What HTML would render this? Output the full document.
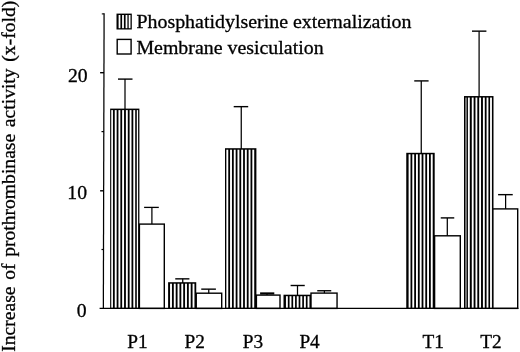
<!DOCTYPE html>
<html><head><meta charset="utf-8"><title>Figure</title>
<style>
html,body{margin:0;padding:0;background:#fff;}
body{width:520px;height:352px;overflow:hidden;}
svg{display:block;}
text{font-family:"Liberation Serif",serif;font-size:19.7px;fill:#000;stroke:#000;stroke-width:0.3px;}
</style></head><body>
<svg width="520" height="352" viewBox="0 0 520 352">
<rect width="520" height="352" fill="#fff"/>

<rect x="110.15" y="108.60" width="29.25" height="199.80" fill="#000"/>
<rect x="111.25" y="110.10" width="1.7" height="197.70" fill="#fff"/>
<rect x="114.75" y="110.10" width="1.9" height="197.70" fill="#fff"/>
<rect x="118.45" y="110.10" width="1.9" height="197.70" fill="#fff"/>
<rect x="122.15" y="110.10" width="1.9" height="197.70" fill="#fff"/>
<rect x="125.90" y="110.10" width="1.9" height="197.70" fill="#fff"/>
<rect x="129.60" y="110.10" width="1.9" height="197.70" fill="#fff"/>
<rect x="133.30" y="110.10" width="1.9" height="197.70" fill="#fff"/>
<rect x="136.80" y="110.10" width="1.3" height="197.70" fill="#fff"/>
<line x1="125.0" y1="79.1" x2="125.0" y2="109.3" stroke="#000" stroke-width="1.25"/>
<line x1="118" y1="79.1" x2="132.5" y2="79.1" stroke="#000" stroke-width="1.4"/>
<rect x="168.1" y="282.20" width="28.15" height="26.20" fill="#000"/>
<rect x="170.05" y="283.70" width="1.9" height="24.10" fill="#fff"/>
<rect x="173.80" y="283.70" width="1.9" height="24.10" fill="#fff"/>
<rect x="177.55" y="283.70" width="1.9" height="24.10" fill="#fff"/>
<rect x="181.30" y="283.70" width="1.9" height="24.10" fill="#fff"/>
<rect x="185.05" y="283.70" width="1.9" height="24.10" fill="#fff"/>
<rect x="188.80" y="283.70" width="1.9" height="24.10" fill="#fff"/>
<rect x="192.55" y="283.70" width="1.9" height="24.10" fill="#fff"/>
<line x1="182.75" y1="278.85" x2="182.75" y2="282.9" stroke="#000" stroke-width="1.25"/>
<line x1="175.25" y1="278.85" x2="189.4" y2="278.85" stroke="#000" stroke-width="1.4"/>
<rect x="225" y="148.20" width="31.40" height="160.20" fill="#000"/>
<rect x="226.35" y="149.70" width="1.9" height="158.10" fill="#fff"/>
<rect x="230.06" y="149.70" width="1.9" height="158.10" fill="#fff"/>
<rect x="233.77" y="149.70" width="1.9" height="158.10" fill="#fff"/>
<rect x="237.48" y="149.70" width="1.9" height="158.10" fill="#fff"/>
<rect x="241.19" y="149.70" width="1.9" height="158.10" fill="#fff"/>
<rect x="244.90" y="149.70" width="1.9" height="158.10" fill="#fff"/>
<rect x="248.61" y="149.70" width="1.9" height="158.10" fill="#fff"/>
<rect x="252.32" y="149.70" width="1.9" height="158.10" fill="#fff"/>
<line x1="241.25" y1="106.65" x2="241.25" y2="148.9" stroke="#000" stroke-width="1.25"/>
<line x1="233.7" y1="106.65" x2="248.2" y2="106.65" stroke="#000" stroke-width="1.4"/>
<rect x="283.5" y="294.70" width="27.50" height="13.70" fill="#000"/>
<rect x="285.95" y="296.20" width="1.9" height="11.60" fill="#fff"/>
<rect x="289.55" y="296.20" width="1.9" height="11.60" fill="#fff"/>
<rect x="293.15" y="296.20" width="1.9" height="11.60" fill="#fff"/>
<rect x="296.75" y="296.20" width="1.9" height="11.60" fill="#fff"/>
<rect x="300.35" y="296.20" width="1.9" height="11.60" fill="#fff"/>
<rect x="303.95" y="296.20" width="1.9" height="11.60" fill="#fff"/>
<rect x="307.55" y="296.20" width="1.9" height="11.60" fill="#fff"/>
<line x1="297.5" y1="285.5" x2="297.5" y2="295.4" stroke="#000" stroke-width="1.25"/>
<line x1="290.6" y1="285.5" x2="304.75" y2="285.5" stroke="#000" stroke-width="1.4"/>
<rect x="406.25" y="152.80" width="28.45" height="155.60" fill="#000"/>
<rect x="408.60" y="154.30" width="1.9" height="153.50" fill="#fff"/>
<rect x="412.30" y="154.30" width="1.9" height="153.50" fill="#fff"/>
<rect x="416.00" y="154.30" width="1.9" height="153.50" fill="#fff"/>
<rect x="419.70" y="154.30" width="1.9" height="153.50" fill="#fff"/>
<rect x="423.40" y="154.30" width="1.9" height="153.50" fill="#fff"/>
<rect x="427.10" y="154.30" width="1.9" height="153.50" fill="#fff"/>
<rect x="430.80" y="154.30" width="1.9" height="153.50" fill="#fff"/>
<line x1="421.25" y1="80.9" x2="421.25" y2="153.5" stroke="#000" stroke-width="1.25"/>
<line x1="414.25" y1="80.9" x2="428.6" y2="80.9" stroke="#000" stroke-width="1.4"/>
<rect x="464.0" y="96.05" width="29.50" height="212.35" fill="#000"/>
<rect x="465.55" y="97.55" width="0.9" height="210.25" fill="#fff"/>
<rect x="467.93" y="97.55" width="1.85" height="210.25" fill="#fff"/>
<rect x="471.77" y="97.55" width="1.85" height="210.25" fill="#fff"/>
<rect x="475.47" y="97.55" width="1.85" height="210.25" fill="#fff"/>
<rect x="479.18" y="97.55" width="1.85" height="210.25" fill="#fff"/>
<rect x="482.93" y="97.55" width="1.85" height="210.25" fill="#fff"/>
<rect x="486.57" y="97.55" width="1.85" height="210.25" fill="#fff"/>
<rect x="490.07" y="97.55" width="1.85" height="210.25" fill="#fff"/>
<line x1="479.1" y1="31.15" x2="479.1" y2="96.75" stroke="#000" stroke-width="1.25"/>
<line x1="472" y1="31.15" x2="486.4" y2="31.15" stroke="#000" stroke-width="1.4"/>
<rect x="139.40" y="224.10" width="24.90" height="84.30" fill="#fff" stroke="#000" stroke-width="1.4"/>
<line x1="151.9" y1="207.4" x2="151.9" y2="224.1" stroke="#000" stroke-width="1.25"/>
<line x1="144.1" y1="207.4" x2="158.8" y2="207.4" stroke="#000" stroke-width="1.3"/>
<rect x="196.25" y="293.20" width="25.45" height="15.20" fill="#fff" stroke="#000" stroke-width="1.4"/>
<line x1="208.75" y1="289.15" x2="208.75" y2="293.2" stroke="#000" stroke-width="1.25"/>
<line x1="201.25" y1="289.15" x2="215.9" y2="289.15" stroke="#000" stroke-width="1.4"/>
<rect x="256.40" y="295.10" width="23.60" height="13.30" fill="#fff" stroke="#000" stroke-width="1.4"/>
<line x1="267" y1="293.45" x2="267" y2="295.1" stroke="#000" stroke-width="1.25"/>
<line x1="260.1" y1="293.45" x2="274.3" y2="293.45" stroke="#000" stroke-width="2.2"/>
<rect x="311.00" y="293.10" width="26.05" height="15.30" fill="#fff" stroke="#000" stroke-width="1.4"/>
<line x1="324.4" y1="290.75" x2="324.4" y2="293.1" stroke="#000" stroke-width="1.25"/>
<line x1="317.25" y1="290.75" x2="331.25" y2="290.75" stroke="#000" stroke-width="1.4"/>
<rect x="434.60" y="235.80" width="25.70" height="72.60" fill="#fff" stroke="#000" stroke-width="1.4"/>
<line x1="447.3" y1="217.9" x2="447.3" y2="235.8" stroke="#000" stroke-width="1.25"/>
<line x1="440.75" y1="217.9" x2="454.25" y2="217.9" stroke="#000" stroke-width="1.4"/>
<rect x="492.90" y="208.90" width="24.80" height="99.50" fill="#fff" stroke="#000" stroke-width="1.4"/>
<line x1="505.6" y1="194.65" x2="505.6" y2="208.9" stroke="#000" stroke-width="1.25"/>
<line x1="498.1" y1="194.65" x2="512.75" y2="194.65" stroke="#000" stroke-width="1.4"/>
<line x1="104.1" y1="13.3" x2="103.35" y2="308.4" stroke="#000" stroke-width="1.25"/>
<line x1="99.6" y1="308.4" x2="518.4" y2="308.4" stroke="#000" stroke-width="1.3"/>
<line x1="100.1" y1="72.7" x2="104" y2="72.7" stroke="#000" stroke-width="1.4"/>
<line x1="100.1" y1="190.8" x2="104" y2="190.8" stroke="#000" stroke-width="1.4"/>
<line x1="101.5" y1="131.6" x2="104" y2="131.6" stroke="#000" stroke-width="1.2"/>
<line x1="101.5" y1="249.5" x2="104" y2="249.5" stroke="#000" stroke-width="1.2"/>
<line x1="101.8" y1="13.9" x2="104" y2="13.9" stroke="#000" stroke-width="1.1"/>
<text x="87.6" y="82.1" text-anchor="end">20</text>
<text x="87.0" y="199.0" text-anchor="end">10</text>
<text x="86.7" y="316.5" text-anchor="end">0</text>
<text x="127.2" y="347.7" style="font-size:19.3px">P1</text>
<text x="184.6" y="347.7" style="font-size:19.3px">P2</text>
<text x="242.8" y="347.7" style="font-size:19.3px">P3</text>
<text x="299.4" y="347.7" style="font-size:19.3px">P4</text>
<text x="422.5" y="347.7" style="font-size:19.3px">T1</text>
<text x="480.2" y="347.7" style="font-size:19.3px">T2</text>
<rect x="116.5" y="13.6" width="15.3" height="15.9" fill="#000"/>
<rect x="118.6" y="15" width="1.8" height="13.2" fill="#fff"/>
<rect x="122.1" y="15" width="1.8" height="13.2" fill="#fff"/>
<rect x="125.6" y="15" width="1.8" height="13.2" fill="#fff"/>
<rect x="128.7" y="15" width="1.8" height="13.2" fill="#fff"/>
<rect x="117.2" y="39.4" width="13.9" height="14.6" fill="#fff" stroke="#000" stroke-width="1.4"/>
<text x="136.4" y="28.4" textLength="275" lengthAdjust="spacingAndGlyphs">Phosphatidylserine externalization</text>
<text x="136.4" y="53.7" textLength="187.2" lengthAdjust="spacingAndGlyphs">Membrane vesiculation</text>
<text style="font-size:19.6px;word-spacing:1.8px" transform="translate(14.5,351.8) rotate(-90)">Increase of prothrombinase activity (x-fold)</text>
</svg></body></html>
